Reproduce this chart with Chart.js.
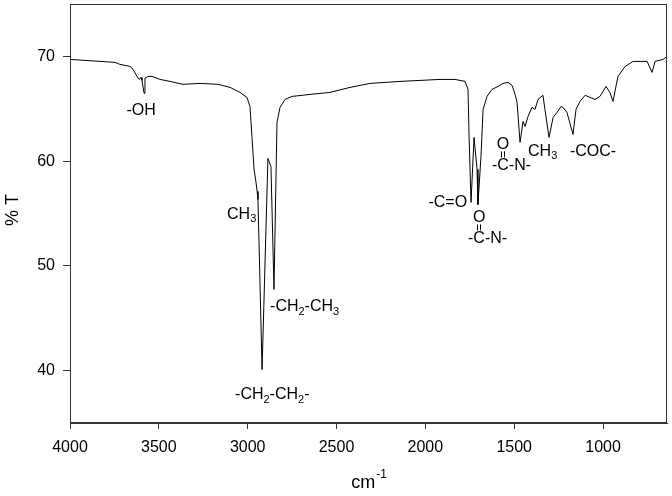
<!DOCTYPE html>
<html>
<head>
<meta charset="utf-8">
<script src="https://cdn.jsdelivr.net/npm/chart.js@4"></script>
<style>
  html, body { margin: 0; padding: 0; background: #fff; }
  #wrap { width: 672px; height: 496px; }
</style>
</head>
<body>
<div id="wrap"><canvas id="irChart" width="672" height="496"></canvas></div>
<script>
// spectrum (cm-1 / %T)
const wavenumber = [
    4000, 3831, 3747, 3719, 3690, 3662, 3645, 3623, 3612, 3600, 3595, 3583, 3578, 3561, 3538,
    3493, 3437, 3364, 3268, 3167, 3099, 3043, 3004, 2987, 2976, 2964, 2953, 2947, 2942, 2919,
    2886, 2869, 2852, 2835, 2818, 2790, 2750, 2694, 2649, 2537, 2424, 2311, 2143, 1917, 1833,
    1777, 1760, 1754, 1743, 1726, 1709, 1704, 1687, 1675, 1653, 1625, 1591, 1563, 1535, 1512,
    1495, 1484, 1467, 1450, 1439, 1422, 1400, 1383, 1366, 1338, 1327, 1304, 1281, 1259, 1236,
    1225, 1203, 1169, 1152, 1130, 1101, 1073, 1045, 1017, 983, 961, 944, 916, 876, 831,
    752, 724, 707, 662, 640
];
const transmittance = [
    69.71, 69.52, 69.43, 69.24, 69.14, 69.04, 68.76, 68.09, 67.80, 67.99, 67.71, 66.47, 67.90, 68.09, 68.09,
    67.80, 67.61, 67.33, 67.42, 67.33, 67.04, 66.56, 66.08, 65.22, 62.36, 59.21, 57.97, 57.11, 56.34, 40.10,
    60.26, 59.49, 47.75, 63.70, 65.13, 65.89, 66.18, 66.28, 66.37, 66.56, 67.04, 67.42, 67.61, 67.80, 67.80,
    67.61, 66.85, 62.36, 56.06, 62.26, 59.21, 55.86, 60.45, 64.94, 66.18, 66.85, 67.13, 67.42, 67.52, 67.23,
    66.37, 65.61, 61.79, 63.79, 63.31, 64.27, 65.13, 64.94, 65.89, 66.28, 64.94, 62.26, 64.17, 64.65, 65.22,
    65.13, 64.65, 62.55, 64.94, 65.70, 66.28, 66.08, 65.89, 66.18, 67.13, 66.56, 65.70, 68.09, 69.04, 69.52,
    69.52, 68.47, 69.52, 69.71, 70.00
];

const xTicks = [4000, 3500, 3000, 2500, 2000, 1500, 1000];
const yTicks = [40, 50, 60, 70];

// band assignments: text pieces ("_" = subscript) and where they sit in data units
const peakLabels = [
    { parts: ["-OH"], at: [3600, 64.84], align: "center" },
    { parts: ["CH", "_3"], at: [3116, 54.91], align: "left" },
    { parts: ["-CH", "_2", "-CH", "_3"], at: [2874, 46.12], align: "left" },
    { parts: ["-CH", "_2", "-CH", "_2", "-"], at: [3071, 37.72], align: "left" },
    { parts: ["-C=O"], at: [1765, 56.06], align: "right" },
    { amide: true, at: [1760, 52.62] },
    { amide: true, at: [1625, 59.59] },
    { parts: ["CH", "_3"], at: [1422, 60.93], align: "left" },
    { parts: ["-COC-"], at: [1186, 60.93], align: "left" }
];

const font = "'Liberation Sans', Arial, sans-serif";
const ink = "#000";
const axisColor = "#333";

function drawRich(ctx, x, y, parts, align) {
    const big = "16px " + font;
    const small = "11px " + font;
    let width = 0;
    parts.forEach(p => {
        ctx.font = p[0] === "_" ? small : big;
        width += ctx.measureText(p[0] === "_" ? p.slice(1) : p).width;
    });
    let cx = x;
    if (align === "center") cx = x - width / 2;
    if (align === "right") cx = x - width;
    ctx.textAlign = "left";
    ctx.textBaseline = "middle";
    parts.forEach(p => {
        const sub = p[0] === "_";
        const t = sub ? p.slice(1) : p;
        ctx.font = sub ? small : big;
        ctx.fillText(t, cx, sub ? y + 5 : y);
        cx += ctx.measureText(t).width;
    });
}

function drawAmide(ctx, x, y) {
    ctx.font = "16px " + font;
    ctx.textAlign = "left";
    ctx.textBaseline = "middle";
    ctx.fillText("-C-N-", x, y);
    const cCenter = x + ctx.measureText("-").width + ctx.measureText("C").width / 2;
    ctx.textAlign = "center";
    ctx.fillText("O", cCenter, y - 21);
    ctx.strokeStyle = ink;
    ctx.lineWidth = 1;
    ctx.beginPath();
    ctx.moveTo(Math.round(cCenter) - 1.5, y - 14);
    ctx.lineTo(Math.round(cCenter) - 1.5, y - 8);
    ctx.moveTo(Math.round(cCenter) + 1.5, y - 14);
    ctx.lineTo(Math.round(cCenter) + 1.5, y - 8);
    ctx.stroke();
}

const decorations = {
    id: "decorations",
    afterDraw(chart) {
        const ctx = chart.ctx;
        const a = chart.chartArea;
        const xs = chart.scales.x;
        const ys = chart.scales.y;
        ctx.save();

        // frame around the plot
        ctx.strokeStyle = axisColor;
        ctx.lineWidth = 1;
        ctx.strokeRect(Math.round(a.left) + 0.5, Math.round(a.top) + 0.5,
            Math.round(a.right - a.left) - 1, Math.round(a.bottom - a.top) - 1);

        ctx.fillStyle = ink;
        peakLabels.forEach(l => {
            const px = xs.getPixelForValue(l.at[0]);
            const py = ys.getPixelForValue(l.at[1]);
            if (l.amide) drawAmide(ctx, px, py);
            else drawRich(ctx, px, py, l.parts, l.align);
        });

        // axis titles
        ctx.fillStyle = ink;
        ctx.font = "18px " + font;
        ctx.textBaseline = "alphabetic";
        const cmW = ctx.measureText("cm").width;
        ctx.font = "12px " + font;
        const supW = ctx.measureText("-1").width;
        const cx = (a.left + a.right) / 2 - (cmW + supW) / 2;
        ctx.font = "18px " + font;
        ctx.textAlign = "left";
        ctx.fillText("cm", cx, 488);
        ctx.font = "12px " + font;
        ctx.fillText("-1", cx + cmW + 1, 478);

        ctx.translate(18, 210);
        ctx.rotate(-Math.PI / 2);
        ctx.font = "18px " + font;
        ctx.textAlign = "center";
        ctx.fillText("% T", 0, 0);
        ctx.restore();
    }
};

new Chart(document.getElementById("irChart"), {
    type: "line",
    data: {
        datasets: [{
            data: wavenumber.map((w, i) => ({ x: w, y: transmittance[i] })),
            borderColor: ink,
            borderWidth: 1,
            pointRadius: 0,
            tension: 0,
            fill: false
        }]
    },
    options: {
        responsive: false,
        animation: false,
        layout: { padding: { top: 4, right: 5, left: 0, bottom: 0 } },
        plugins: { legend: { display: false }, tooltip: { enabled: false } },
        scales: {
            x: {
                type: "linear",
                reverse: true,
                min: 640,
                max: 4000,
                afterBuildTicks: s => { s.ticks = xTicks.map(v => ({ value: v })); },
                afterFit: s => {
                    s.height = 73;
                    s.paddingLeft = 0; s.paddingRight = 0;
                },
                grid: { display: true, drawOnChartArea: false, drawTicks: true, tickLength: 6, color: axisColor },
                border: { display: true, color: axisColor },
                ticks: {
                    color: ink, padding: 9, maxRotation: 0,
                    font: { family: font, size: 16 },
                    callback: v => String(v)
                }
            },
            y: {
                type: "linear",
                min: 35,
                max: 75,
                afterBuildTicks: s => { s.ticks = yTicks.map(v => ({ value: v })); },
                afterFit: s => {
                    s.width = 70;
                    s.paddingTop = 0; s.paddingBottom = 0;
                },
                grid: { display: true, drawOnChartArea: false, drawTicks: true, tickLength: 7, color: axisColor },
                border: { display: true, color: axisColor },
                ticks: {
                    color: ink, padding: 8,
                    font: { family: font, size: 16 },
                    callback: v => String(v)
                }
            }
        }
    },
    plugins: [decorations]
});
</script>
</body>
</html>
